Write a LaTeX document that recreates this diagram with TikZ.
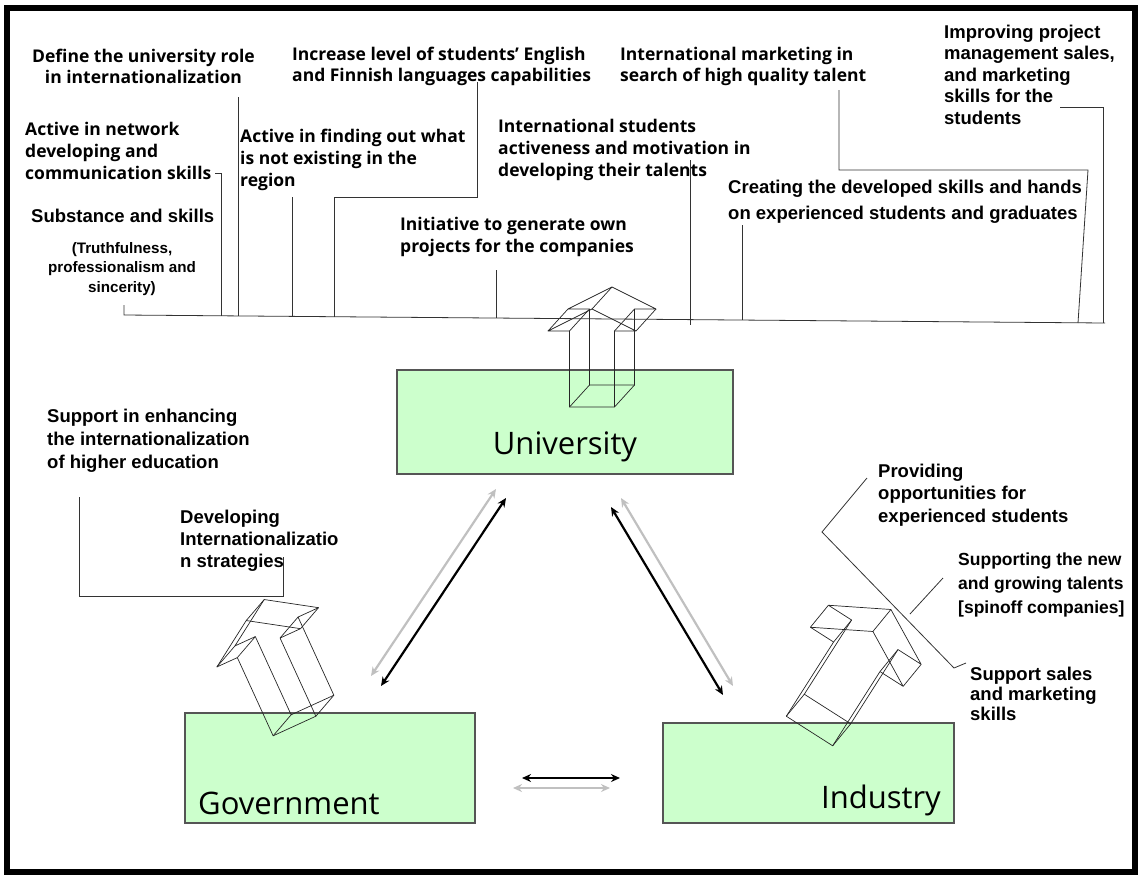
\documentclass[tikz,border=0pt]{standalone}
\usepackage{fontspec}
\setmainfont{Liberation Sans}
\newfontfamily\humfont{Open Sans}
\usetikzlibrary{arrows.meta}
\definecolor{boxgreen}{RGB}{204,255,204}
\definecolor{boxedge}{RGB}{85,85,85}
\definecolor{pale}{RGB}{192,192,192}
\tikzset{
    hum/.style={font=\humfont\bfseries\fontsize{17.5}{#1}\selectfont,
                align=left, inner sep=0pt, anchor=base west},
    hum/.default=22,
    ari/.style={font=\bfseries\fontsize{18.5}{#1}\selectfont,
                align=left, inner sep=0pt, anchor=base west},
    ari/.default=22,
    actor/.style={draw=boxedge, line width=1.2pt, fill=boxgreen, inner sep=0pt},
    actorname/.style={font=\humfont\fontsize{31}{36}\selectfont, inner sep=0pt},
    lead/.style={draw=black!80, line width=0.8pt},
    wire/.style={draw=black!85, line width=0.7pt, line join=round},
    dark/.style={{Stealth[length=9pt,width=8pt]}-{Stealth[length=9pt,width=8pt]},
                 line width=2.2pt},
    light/.style={dark, draw=pale},
}
% one face of a block arrow: name, scope options, half shaft, shaft length, half head, tip
\newcommand\arrowface[6]{%
  \begin{scope}[#2]
    \draw[wire] (-#3,0) coordinate (#11) -- (-#3,-#4) coordinate (#12)
      -- (-#5,-#4) coordinate (#13) -- (0,-#6) coordinate (#14)
      -- (#5,-#4) coordinate (#15) -- (#3,-#4) coordinate (#16)
      -- (#3,0) coordinate (#17) -- cycle;
  \end{scope}}
% 3d block arrow: base, depth, angle, half shaft, shaft length, half head, tip
\newcommand\blockarrow[7]{%
  \arrowface{f}{shift={#1}, rotate=#3}{#4}{#5}{#6}{#7}
  \arrowface{b}{shift={#1}, shift={#2}, rotate=#3}{#4}{#5}{#6}{#7}
  \foreach \k in {1,...,7} \draw[wire] (f\k) -- (b\k);
}

\begin{document}
\begin{tikzpicture}[x=1pt, y=-1pt]
\useasboundingbox (0,0) rectangle (1141,876);
\draw[line width=6pt] (7,8) rectangle (1135,872);

% the three actors
\node(uni) [actor, minimum width=336pt, minimum height=104pt] at (565,422) {};
\node(gov) [actor, minimum width=290pt, minimum height=110pt] at (330,768) {};
\node(ind) [actor, minimum width=291pt, minimum height=100pt] at (808.5,773) {};
\node(unitxt) [actorname, anchor=base]      at (565,454) {University};
\node(govtxt) [actorname, anchor=base west] at (198,814) {Government};
\node(indtxt) [actorname, anchor=base east] at (941,808) {Industry};

\blockarrow{(592,407)}{(20,-22)}{0}{22.5}{76}{44}{98}
\blockarrow{(294.5,726)}{(18,-21)}{24.6}{23.5}{86}{46}{116}
\blockarrow{(809.5,731)}{(18,-22)}{-32.5}{27.5}{88}{55}{118}

% two way links
\coordinate (ug1) at (381,686); \coordinate (ug2) at (506,498);
\coordinate (ug3) at (371,676); \coordinate (ug4) at (496,489);
\coordinate (ui1) at (723,695); \coordinate (ui2) at (611,507);
\coordinate (ui3) at (733,686); \coordinate (ui4) at (621,498);
\coordinate (gi1) at (522,778); \coordinate (gi2) at (620,778);
\coordinate (gi3) at (513,788); \coordinate (gi4) at (610,788);
\draw[light] (ug3) -- (ug4);
\draw[dark]  (ug1) -- (ug2);
\draw[light] (ui3) -- (ui4);
\draw[dark]  (ui1) -- (ui2);
\draw[light] (gi3) -- (gi4);
\draw[dark]  (gi1) -- (gi2);

% university tasks (anchored at the baseline of the last line)
\node(role)  [hum=21, align=center, anchor=base] at (143.5,83)
      {Define the university role\\in internationalization};
\node(lang)  [hum=21] at (292,81) {Increase level of students’ English\\and Finnish languages capabilities};
\node(mkt)   [hum=21] at (620,81) {International marketing in\\search of high quality talent};
\node(net)   [hum] at (25,179) {Active in network\\developing and\\communication skills};
\node(find)  [hum] at (240,186) {Active in finding out what\\is not existing in the\\region};
\node(stud)  [hum] at (498,176) {International students\\activeness and motivation in\\developing their talents};
\node(init)  [hum] at (400,252) {Initiative to generate own\\projects for the companies};
\node(impr)  [ari=21.5] at (944,124) {Improving project\\management sales,\\and marketing\\skills for the\\students};
\node(crea)  [ari=26] at (728,219) {Creating the developed skills and hands\\on experienced students and graduates};
\node(subs)  [ari] at (31,222) {Substance and skills};
\node(truth) [ari=19.5, font=\bfseries\fontsize{15.2}{19.5}\selectfont, align=center, anchor=base]
      at (122,292) {(Truthfulness,\\professionalism and\\sincerity)};

% government and industry tasks
\node(supp)  [ari=23] at (47,468) {Support in enhancing\\the internationalization\\of higher education};
\node(dev)   [ari] at (180,567) {Developing\\Internationalizatio\\n strategies};
\node(prov)  [ari=22.5] at (878,522) {Providing\\opportunities for\\experienced students};
\node(grow)  [ari=24, font=\bfseries\fontsize{17.5}{24}\selectfont] at (958,613)
      {Supporting the new\\and growing talents\\{}[spinoff companies]};
\node(sale)  [ari=20] at (970,720) {Support sales\\and marketing\\skills};

% leader lines
\coordinate (bl) at (124,315);
\coordinate (br) at (1105,323);
\coordinate (subtick) at (124,305);
\draw[lead] (subtick) -- (bl) -- (br);
\draw[lead] (215,173) -- (221,173) -- (221,316);
\draw[lead] (238,97) -- (238,316);
\draw[lead] (292,197) -- (292,316.5);
\draw[lead] (477,82) -- (477,197) -- (334,197) -- (334,317);
\draw[lead] (496,270) -- (496,318);
\draw[lead] (690,160) -- (690,325);
\draw[lead] (742,225) -- (742,320);
\draw[lead] (839,90) -- (839,170) -- (1088,170) -- (1078,323);
\draw[lead] (1060,107) -- (1103,107) -- (1103,323);
\draw[lead] (79,497) -- (79,596) -- (283,596) -- (283,557);
\draw[lead] (867,478) -- (822,532) -- (954,668) -- (966,663);
\draw[lead] (943,578) -- (910,614);
\end{tikzpicture}
\end{document}
